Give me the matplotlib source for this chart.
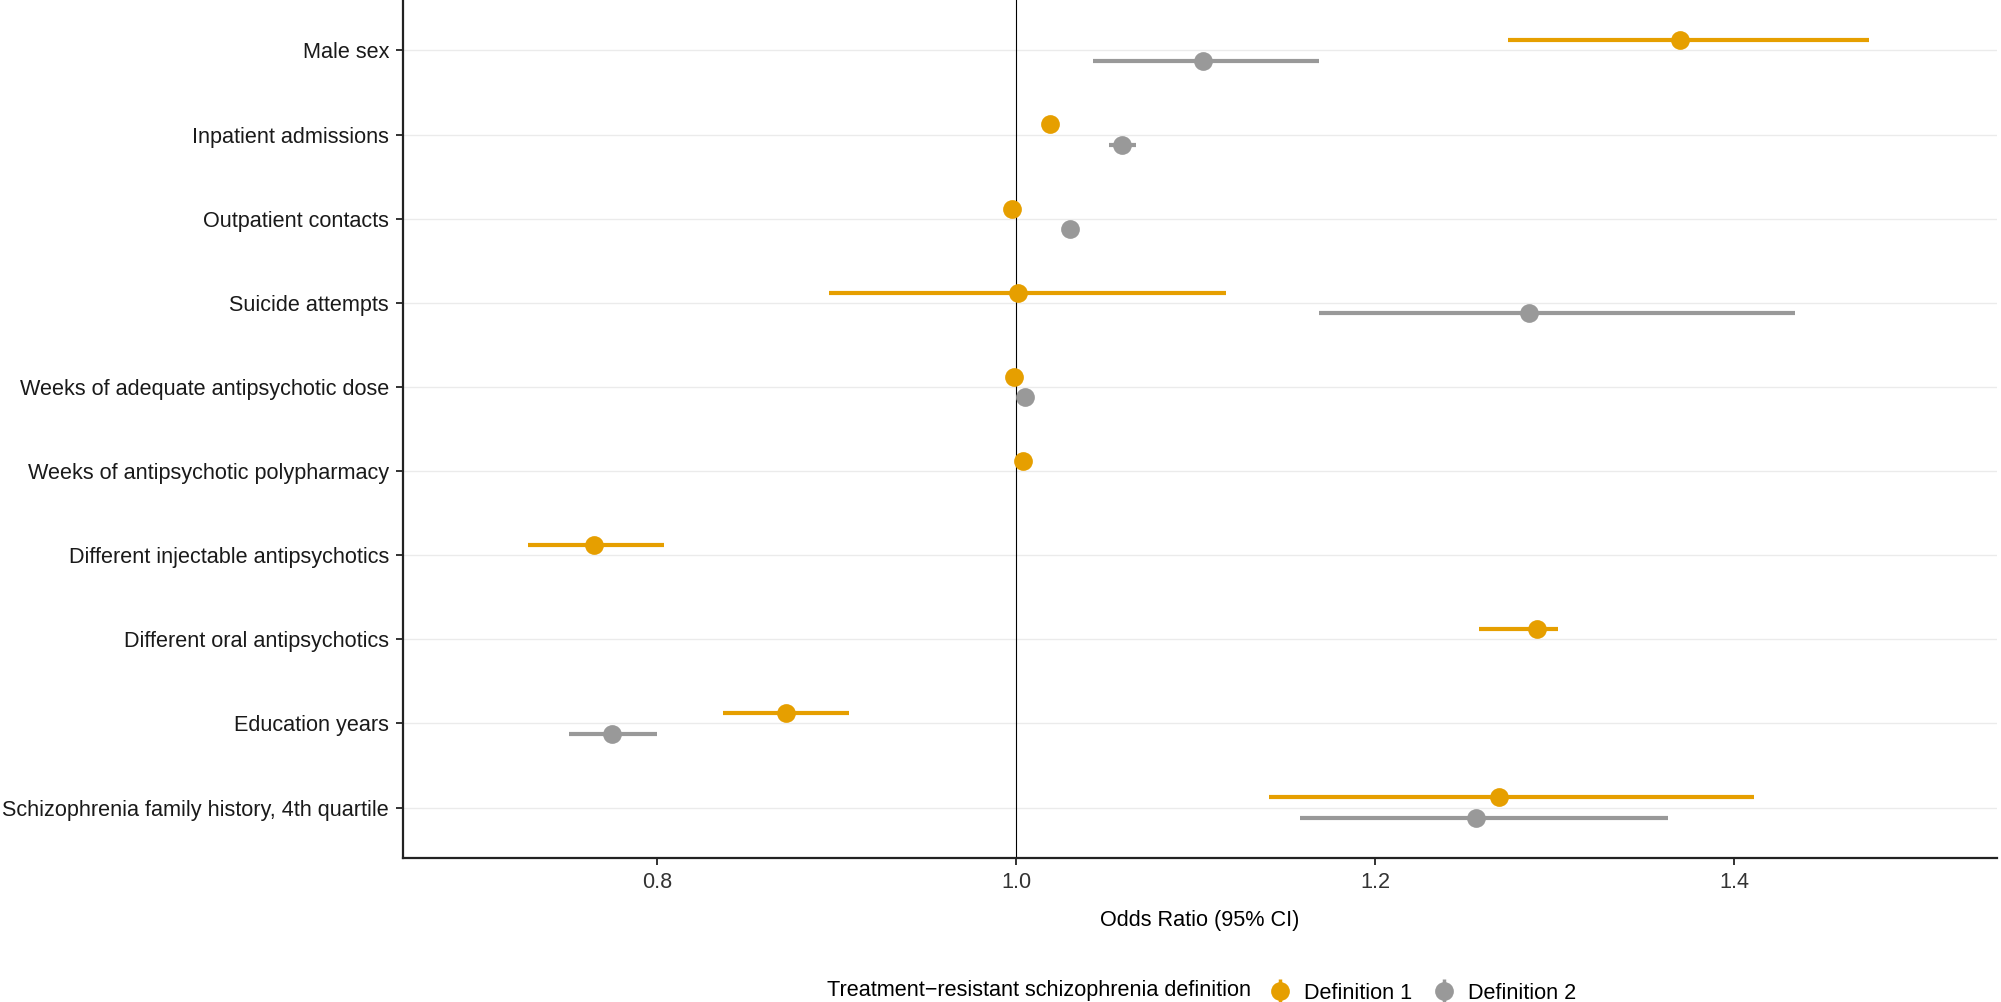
import numpy as np
import matplotlib.pyplot as plt
from matplotlib.lines import Line2D
from matplotlib.legend_handler import HandlerTuple

plt.rcParams['font.family'] = ['Liberation Sans', 'DejaVu Sans']

# ---- data ----
variables = [
    "Male sex",
    "Inpatient admissions",
    "Outpatient contacts",
    "Suicide attempts",
    "Weeks of adequate antipsychotic dose",
    "Weeks of antipsychotic polypharmacy",
    "Different injectable antipsychotics",
    "Different oral antipsychotics",
    "Education years",
    "Schizophrenia family history, 4th quartile",
]

def1_or = [1.370, 1.019, 0.998, 1.001, 0.999, 1.004, 0.765, 1.290, 0.872, 1.269]
def1_lo = [1.274, 1.016, 0.996, 0.896, 0.998, 1.003, 0.728, 1.258, 0.837, 1.141]
def1_hi = [1.475, 1.022, 1.000, 1.117, 1.000, 1.005, 0.804, 1.302, 0.907, 1.411]

nan = np.nan
def2_or = [1.104, 1.059, 1.030, 1.286, 1.005, nan, nan, nan, 0.775, 1.256]
def2_lo = [1.043, 1.052, 1.028, 1.169, 1.004, nan, nan, nan, 0.751, 1.158]
def2_hi = [1.169, 1.067, 1.032, 1.434, 1.006, nan, nan, nan, 0.800, 1.363]

series_names = ["Definition 1", "Definition 2"]
colors = ["#E69F00", "#999999"]
legend_title = "Treatment\u2212resistant schizophrenia definition"

FS = 15.6

# ---- figure ----
fig = plt.figure(figsize=(20.01, 10.02), dpi=100)
ax = fig.add_axes([0.2014, 0.1437, 0.7966, 0.8563])

n = len(variables)
ypos = np.arange(n, 0, -1)  # top row first
dodge = 0.12

series = [(def1_or, def1_lo, def1_hi), (def2_or, def2_lo, def2_hi)]
for k, (orv, lo, hi) in enumerate(series):
    orv = np.array(orv); lo = np.array(lo); hi = np.array(hi)
    y = ypos + (dodge if k == 0 else -dodge)
    ax.hlines(y, lo, hi, color=colors[k], lw=3.0, zorder=3)
    ax.plot(orv, y, 'o', color=colors[k], ms=13.5, mec='none', zorder=4)

ax.axvline(1.0, color='black', lw=0.8, zorder=2)

ax.set_xlim(0.6585, 1.5465)
ax.set_ylim(0.4, n + 0.6)
ax.set_yticks(ypos)
ax.set_yticklabels(variables, fontsize=FS, color='#1a1a1a')
ax.set_xticks([0.8, 1.0, 1.2, 1.4])
ax.set_xticklabels(["0.8", "1.0", "1.2", "1.4"], fontsize=FS, color='#333333')
ax.set_xlabel("Odds Ratio (95% CI)", fontsize=FS, labelpad=12)

ax.yaxis.grid(True, color='#EBEBEB', lw=1.0, zorder=0)
ax.set_axisbelow(True)
for s in ['top', 'right']:
    ax.spines[s].set_visible(False)
for s in ['left', 'bottom']:
    ax.spines[s].set_linewidth(1.6)
    ax.spines[s].set_color('#222222')
ax.tick_params(axis='both', length=5, width=1.4, color='#333333', pad=5)

# ---- legend at bottom ----
handles = [
    (Line2D([], [], marker='|', ms=17, mew=2.5, color=c, ls=''),
     Line2D([], [], marker='o', ms=13.5, color=c, mec='none', ls=''))
    for c in colors
]
fig.text(0.4135, 0.0005, legend_title, fontsize=FS, ha='left', va='bottom')
fig.legend(handles, series_names, loc='lower left', bbox_to_anchor=(0.6245, -0.021),
           ncol=2, frameon=False, fontsize=FS, handler_map={tuple: HandlerTuple(ndivide=1)},
           handlelength=1.0, handletextpad=0.6, columnspacing=1.0)

fig.savefig("out.png", dpi=100)
